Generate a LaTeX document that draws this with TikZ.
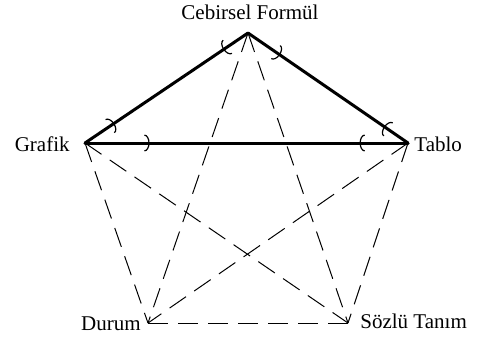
\documentclass[tikz,border=0pt]{standalone}
\usepackage{fontspec}
\setmainfont{Liberation Serif}
\usetikzlibrary{arrows.meta,decorations.markings}

\tikzset{
  strong/.style={line width=1.5pt, line cap=round,
    postaction={decorate, decoration={markings,
      mark=at position #1 with {\arrow{Arc Barb[length=2.6pt, width=8.5pt, line width=0.6pt]}},
      mark=at position 0.85 with {\arrowreversed{Arc Barb[length=2.6pt, width=8.5pt, line width=0.6pt]}}}}},
  strong/.default=0.2,
  weak/.style={line width=0.5pt, dash pattern=on 10pt off 5pt},
  lbl/.style={font=\fontsize{10.5}{12}\selectfont, inner sep=0pt}
}

\begin{document}
\begin{tikzpicture}[x=0.5pt, y=-0.5pt]
  \useasboundingbox (0,0) rectangle (480,338);

  % The five corners of the pentagon
  \coordinate (formul) at (248,33);
  \coordinate (grafik) at (85,143);
  \coordinate (tablo) at (408,143);
  \coordinate (durum) at (148,323);
  \coordinate (sozlu) at (348,323);

  % Labels
  \node[lbl] (lformul) at (250,12) {Cebirsel Formül};
  \node[lbl, anchor=east] (lgrafik) at (70,144) {Grafik};
  \node[lbl, anchor=west] (ltablo) at (414,144) {Tablo};
  \node[lbl, anchor=east] (ldurum) at (141,324) {Durum};
  \node[lbl, anchor=west] (lsozlu) at (360,321) {Sözlü Tanım};

  % Dashed connections
  \draw[weak] (formul) -- (durum);
  \draw[weak] (formul) -- (sozlu);
  \draw[weak] (grafik) -- (durum);
  \draw[weak] (grafik) -- (sozlu);
  \draw[weak] (tablo) -- (durum);
  \draw[weak] (tablo) -- (sozlu);
  \draw[weak] (durum) -- (sozlu);

  % Thick triangle
  \draw[strong=0.18] (grafik) -- (formul);
  \draw[strong=0.2] (formul) -- (tablo);
  \draw[strong=0.2] (grafik) -- (tablo);

\end{tikzpicture}
\end{document}
